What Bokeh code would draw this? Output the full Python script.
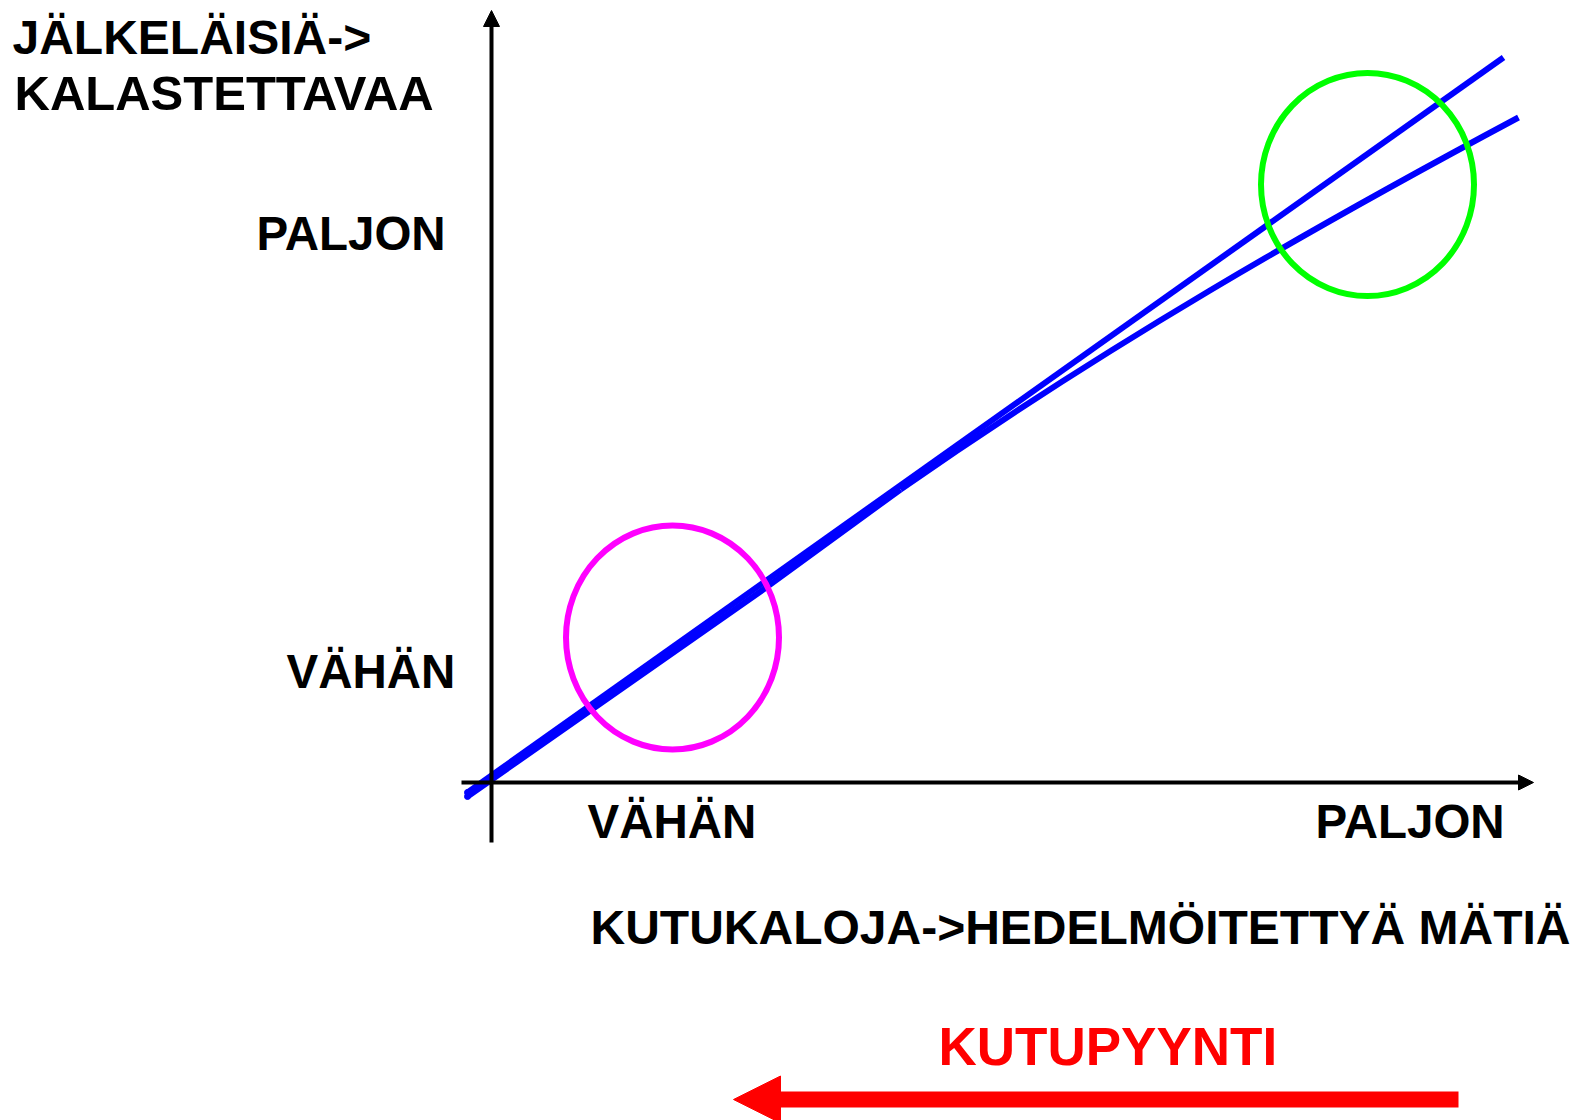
from bokeh.plotting import figure
from bokeh.models import Range1d, Arrow, NormalHead, ColumnDataSource
from bokeh.core.properties import value
from bokeh.embed import file_html
from bokeh.resources import INLINE

# ---- data (diagram coordinates: origin at the axis crossing) ----
# straight recruitment line (offspring proportional to spawners)
line_a_x = [-24, 1012]
line_a_y = [-10, 725]
# bending recruitment line: straight part, then a gently bending part
line_b_x = [-24, 269, 409]
line_b_y = [-14, 191, 293]
# bending part: start (x, y), end (x, y), control points (x, y), (x, y)
line_b_bend_start = (409, 293)
line_b_bend_end = (1027, 665)
line_b_bend_ctrl1 = (615, 437)
line_b_bend_ctrl2 = (821, 555)

# highlighted regions: (centre x, centre y, width, height)
low_zone = (181, 145, 213, 224)     # magenta: few spawners
high_zone = (876, 598, 213, 223)    # green: many spawners

# axes (start -> arrow tip)
y_axis_line = (0, -60, 0, 772)
x_axis_line = (-30, 0, 1042, 0)

# fishing-pressure arrow (start -> tip)
fishing_arrow = (967, -317, 242, -317)

# texts
labels_text = ["JÄLKELÄISIÄ->", "KALASTETTAVAA", "PALJON", "VÄHÄN",
               "VÄHÄN", "PALJON", "KUTUKALOJA->HEDELMÖITETTYÄ MÄTIÄ",
               "KUTUPYYNTI"]
labels_x = [-479, -477, -235, -205, 96, 824, 99, 447]
labels_y = [745, 690, 549, 111, -39, -39, -145, -264]
labels_size = ["48px", "49px", "47.5px", "47.5px", "47.5px", "47.5px",
               "48px", "53px"]
labels_color = ["black"] * 7 + ["#FF0000"]

W, H = 1574, 1120
X0, Y0 = 491, 782  # pixel position of the origin (for ranges)

p = figure(width=W, height=H,
           x_range=Range1d(-X0, W - X0),
           y_range=Range1d(Y0 - H, Y0),
           output_backend="svg", toolbar_location=None,
           x_axis_type=None, y_axis_type=None, min_border=0)
p.grid.visible = False
p.outline_line_color = None
p.background_fill_color = "white"
p.border_fill_color = "white"

BLUE = "#0000FF"
LW = 6
# recruitment lines
p.line(line_b_x, line_b_y, line_color=BLUE, line_width=LW, line_cap="butt", line_join="round")
p.bezier(x0=[line_b_bend_start[0]], y0=[line_b_bend_start[1]],
         x1=[line_b_bend_end[0]], y1=[line_b_bend_end[1]],
         cx0=[line_b_bend_ctrl1[0]], cy0=[line_b_bend_ctrl1[1]],
         cx1=[line_b_bend_ctrl2[0]], cy1=[line_b_bend_ctrl2[1]],
         line_color=BLUE, line_width=LW, line_cap="butt")
p.line(line_a_x, line_a_y, line_color=BLUE, line_width=LW, line_cap="butt")
p.scatter([line_a_x[0], line_b_x[0]], [line_a_y[0], line_b_y[0]],
          size=LW, color=BLUE, marker="circle")

# zones
p.ellipse(x=[low_zone[0]], y=[low_zone[1]], width=[low_zone[2]], height=[low_zone[3]],
          fill_alpha=0, line_color="#FF00FF", line_width=LW)
p.ellipse(x=[high_zone[0]], y=[high_zone[1]], width=[high_zone[2]], height=[high_zone[3]],
          fill_alpha=0, line_color="#00FF00", line_width=LW)

# axes
p.add_layout(Arrow(x_start=y_axis_line[0], y_start=y_axis_line[1],
                   x_end=y_axis_line[2], y_end=y_axis_line[3],
                   line_width=4, line_color="black",
                   end=NormalHead(size=16, fill_color="black", line_color="black", line_width=1)))
p.add_layout(Arrow(x_start=x_axis_line[0], y_start=x_axis_line[1],
                   x_end=x_axis_line[2], y_end=x_axis_line[3],
                   line_width=4, line_color="black",
                   end=NormalHead(size=15, fill_color="black", line_color="black", line_width=1)))

# fishing arrow
p.add_layout(Arrow(x_start=fishing_arrow[0], y_start=fishing_arrow[1],
                   x_end=fishing_arrow[2], y_end=fishing_arrow[3],
                   line_width=16, line_color="#FF0000", line_cap="butt",
                   end=NormalHead(size=47, fill_color="#FF0000", line_color="#FF0000", line_width=1)))

src = ColumnDataSource(dict(text=labels_text, x=labels_x, y=labels_y,
                            size=labels_size, color=labels_color))
p.text(x="x", y="y", text="text", source=src, text_font=value("Liberation Sans"),
       text_font_style="bold", text_font_size="size", text_color="color",
       text_align="left", text_baseline="alphabetic")

open("out.html", "w").write(file_html(p, INLINE))
